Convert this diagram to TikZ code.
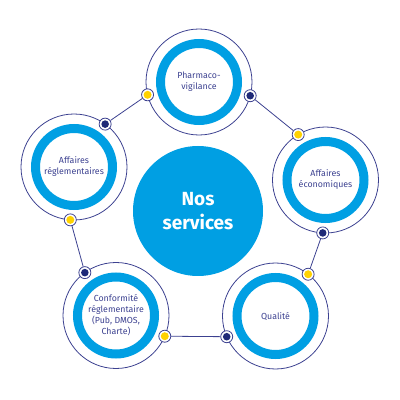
\documentclass[tikz,border=0pt]{standalone}
\usepackage{fontspec}
\usetikzlibrary{calc}
\newfontfamily\labfont{Fira Sans}
\definecolor{cyanc}{HTML}{009FE3}
\definecolor{navyc}{HTML}{3C4190}
\definecolor{navydot}{HTML}{1F2A78}
\definecolor{yellowc}{HTML}{FFD200}
\tikzset{
  svc/.style={circle, draw=navyc, line width=0.8pt, minimum size=106pt, inner sep=0pt,
    align=center, text=navyc, font=\labfont\fontsize{8.8}{11}\selectfont},
  ring/.style={draw=cyanc, line width=9pt},
  dotbase/.style={circle, draw=navyc, line width=0.8pt, fill=white, minimum size=12pt, inner sep=0pt},
  ydot/.style={dotbase, path picture={\fill[yellowc] (path picture bounding box.center) circle[radius=4pt];}},
  ndot/.style={dotbase, path picture={\fill[navydot] (path picture bounding box.center) circle[radius=3.8pt];}},
  conn/.style={draw=navyc, line width=0.8pt},
  hub/.style={circle, fill=cyanc, minimum size=130pt, inner sep=0pt, align=center, text=white,
    font=\labfont\bfseries\fontsize{19}{24}\selectfont}
}
\begin{document}
\begin{tikzpicture}[x=1pt,y=1pt]
\useasboundingbox (0,0) rectangle (400,400);
\node[hub] (hub) at (198,189) {Nos\\services};
\node[svc] (top) at (199,318) {Pharmaco-\\vigilance};
\node[svc] (left) at (74,233) {Affaires\\réglementaires};
\node[svc] (right) at (325.5,220) {Affaires\\économiques};
\node[svc] (bl) at (116,84.5) {Conformité\\réglementaire\\(Pub, DMOS,\\Charte)};
\node[svc] (br) at (275.5,84) {Qualité};
\foreach \n in {top,left,right,bl,br} { \draw[ring] (\n.center) circle[radius=38.5]; }
% dots
\node[ydot] (topy) at ($(top.center)+(194:53)$) {};
\node[ndot] (topn) at ($(top.center)+(-15:53)$) {};
\node[ndot] (leftn) at ($(left.center)+(54:53)$) {};
\node[ydot] (lefty) at ($(left.center)+(-94:53)$) {};
\node[ydot] (righty) at ($(right.center)+(121:53)$) {};
\node[ndot] (rightn) at ($(right.center)+(267:53)$) {};
\node[ndot] (bln) at ($(bl.center)+(126:53)$) {};
\node[ydot] (bly) at ($(bl.center)+(-23:53)$) {};
\node[ydot] (bry) at ($(br.center)+(52:53)$) {};
\node[ndot] (brn) at ($(br.center)+(203:53)$) {};
% connectors
\draw[conn] (topy) -- (leftn);
\draw[conn] (lefty) -- (bln);
\draw[conn] (bly) -- (brn);
\draw[conn] (bry) -- (rightn);
\draw[conn] (righty) -- (topn);
\end{tikzpicture}
\end{document}
